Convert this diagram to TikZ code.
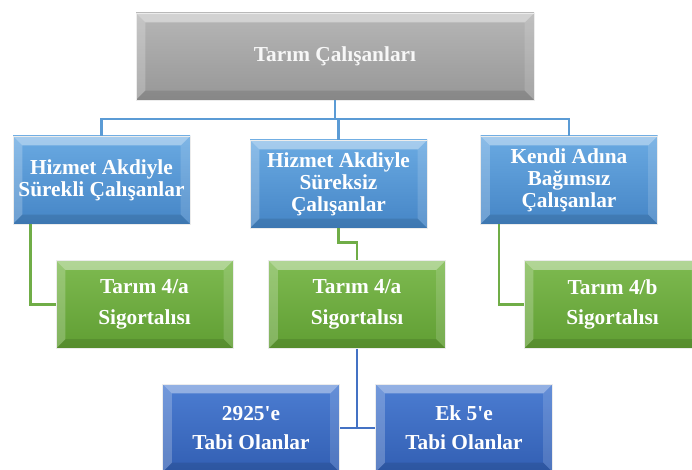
\documentclass[tikz,border=0pt]{standalone}
\usepackage{fontspec}
\setmainfont{Liberation Serif}

\definecolor{griust}{HTML}{B6B6B6}
\definecolor{grialt}{HTML}{979797}
\definecolor{maviust}{HTML}{6AAAE2}
\definecolor{mavialt}{HTML}{4585C6}
\definecolor{yesilust}{HTML}{7EBA50}
\definecolor{yesilalt}{HTML}{609E33}
\definecolor{lacivertust}{HTML}{4C7DD2}
\definecolor{lacivertalt}{HTML}{325FB3}
\definecolor{maviçizgi}{HTML}{5B9BD5}
\definecolor{yesilcizgi}{HTML}{70AD47}
\definecolor{lacivertcizgi}{HTML}{4472C4}

\def\ppbb{path picture bounding box}

\begin{document}
\begin{tikzpicture}[x=0.75pt, y=-0.75pt,
    bevel/.style={path picture={
        \fill[white, opacity=.4] (\ppbb.north west) -- (\ppbb.north east)
            -- ([shift={(-7pt,-7pt)}]\ppbb.north east) -- ([shift={(7pt,-7pt)}]\ppbb.north west) -- cycle;
        \fill[white, opacity=.22] (\ppbb.north west) -- ([shift={(7pt,-7pt)}]\ppbb.north west)
            -- ([shift={(7pt,7pt)}]\ppbb.south west) -- (\ppbb.south west) -- cycle;
        \fill[white, opacity=.14] (\ppbb.north east) -- ([shift={(-7pt,-7pt)}]\ppbb.north east)
            -- ([shift={(-7pt,7pt)}]\ppbb.south east) -- (\ppbb.south east) -- cycle;
        \fill[black, opacity=.1] (\ppbb.south west) -- ([shift={(7pt,7pt)}]\ppbb.south west)
            -- ([shift={(-7pt,7pt)}]\ppbb.south east) -- (\ppbb.south east) -- cycle;
    }},
    kutu/.style={minimum width=132.75pt, minimum height=66pt, inner sep=2pt, align=center,
        text=white, draw=white!85!gray, line width=0.6pt, bevel,
        font=\fontsize{16}{16.5}\selectfont\bfseries},
    gri/.style={kutu, top color=griust, bottom color=grialt, text=white!94!gray,
        minimum width=298.5pt, minimum height=65.25pt},
    mavi/.style={kutu, top color=maviust, bottom color=mavialt},
    yesil/.style={kutu, top color=yesilust, bottom color=yesilalt,
        font=\fontsize{16}{23}\selectfont\bfseries},
    lacivert/.style={kutu, top color=lacivertust, bottom color=lacivertalt,
        font=\fontsize{16}{22}\selectfont\bfseries},
    baglanti/.style={line width=1.9pt}
]
    \clip (0,0) rectangle (692,470);

    % ust seviye
    \node[gri] (tarim) at (335,56.5) {Tarım Çalışanları};

    % calisan gruplari
    \node[mavi] (surekli) at (101.5,180) {Hizmet Akdiyle\\Sürekli Çalışanlar};
    \node[mavi] (sureksiz) at (338.5,184) {Hizmet Akdiyle\\Süreksiz\\Çalışanlar};
    \node[mavi] (bagimsiz) at (569,180) {Kendi Adına\\Bağımsız\\Çalışanlar};

    % sigorta turleri
    \node[yesil] (sig1) at (144.5,304.5) {Tarım 4/a\\Sigortalısı};
    \node[yesil] (sig2) at (357,304.5) {Tarım 4/a\\Sigortalısı};
    \node[yesil] (sig3) at (612.5,304.5) {Tarım 4/b\\Sigortalısı};

    \node[lacivert] (tabi1) at (251,428) {2925\textquotesingle e\\Tabi Olanlar};
    \node[lacivert] (tabi2) at (464,428) {Ek 5\textquotesingle e\\Tabi Olanlar};

    % baglantilar
    \foreach \grup in {surekli,sureksiz,bagimsiz} {
        \draw[baglanti, maviçizgi] (tarim.south) -- ++(0,18.5) -| (\grup.north);
    }
    \draw[baglanti, yesilcizgi] ([xshift=13.5pt]surekli.south west) |- (sig1.west);
    \draw[baglanti, yesilcizgi] (sureksiz.south) -- ++(0,14) -| (sig2.north);
    \draw[baglanti, yesilcizgi] ([xshift=14pt]bagimsiz.south west) |- (sig3.west);
    \draw[baglanti, lacivertcizgi] (sig2.south) |- (tabi1.east);
    \draw[baglanti, lacivertcizgi] (sig2.south) |- (tabi2.west);
\end{tikzpicture}
\end{document}
